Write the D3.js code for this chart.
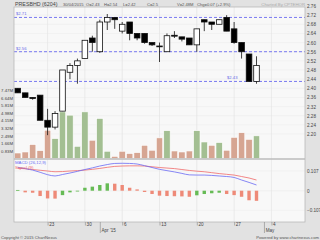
<!DOCTYPE html>
<html>
<head>
<meta charset="utf-8">
<script src="https://cdnjs.cloudflare.com/ajax/libs/d3/7.8.5/d3.min.js"></script>
<style>
body { margin: 0; background: #e2e2e2; }
svg { display: block; font-family: "Liberation Sans", Arial, sans-serif; }
.axis path { display: none; }
.axis line { stroke: #888; stroke-width: 0.6; }
.axis text { fill: #444; font-size: 4.6px; }
</style>
</head>
<body>
<div id="vis"></div>
<script>
// trading days, Mar 17 .. Apr 30 2015
var dates = ["17/03","18/03","19/03","20/03","23/03","24/03","25/03","26/03","27/03",
    "30/03","31/03","01/04","02/04","03/04","06/04","07/04","08/04","09/04","10/04",
    "13/04","14/04","15/04","16/04","17/04","20/04","21/04","22/04","23/04","24/04",
    "27/04","28/04","29/04","30/04"];

var open  = [2.40, 2.38, 2.36, 2.37, 2.26, 2.23, 2.30, 2.47, 2.50, 2.53, 2.62, 2.56, 2.69, 2.71, 2.65, 2.69, 2.64,
             2.64, 2.60, 2.585, 2.56, 2.632, 2.625, 2.62, 2.59, 2.70, 2.69, 2.68, 2.71, 2.66, 2.60, 2.55, 2.43];
var high  = [2.40, 2.38, 2.36, 2.37, 2.31, 2.30, 2.48, 2.51, 2.53, 2.61, 2.63, 2.70, 2.725, 2.71, 2.69, 2.69, 2.64,
             2.64, 2.60, 2.60, 2.64, 2.65, 2.625, 2.62, 2.66, 2.70, 2.69, 2.70, 2.72, 2.69, 2.60, 2.55, 2.54];
var low   = [2.38, 2.36, 2.35, 2.26, 2.195, 2.22, 2.30, 2.44, 2.42, 2.53, 2.56, 2.555, 2.655, 2.66, 2.64, 2.61, 2.61,
             2.595, 2.585, 2.515, 2.56, 2.62, 2.605, 2.59, 2.56, 2.65, 2.655, 2.68, 2.65, 2.595, 2.53, 2.43, 2.42];
var close = [2.38, 2.36, 2.355, 2.26, 2.23, 2.29, 2.48, 2.50, 2.52, 2.61, 2.60, 2.69, 2.71, 2.70, 2.68, 2.64, 2.62,
             2.60, 2.59, 2.585, 2.63, 2.628, 2.615, 2.59, 2.66, 2.69, 2.68, 2.70, 2.65, 2.60, 2.56, 2.43, 2.50];

// volume in millions
var volume = [0.61, 0.72, 1.53, 0.87, 3.09, 2.18, 5.09, 4.73, 1.34, 5.09, 2.0, 4.37, 0.8, 0.25, 0.8, 0.55, 0.65,
              1.45, 0.91, 2.26, 3.04, 0.83, 0.72, 0.83, 3.04, 1.81, 1.45, 1.75, 0.91, 2.32, 2.82, 2.1, 2.48];

var macd   = [0.127, 0.120, 0.112, 0.100, 0.087, 0.080, 0.088, 0.096, 0.105, 0.115, 0.124, 0.134, 0.142, 0.148,
              0.149, 0.148, 0.145, 0.136, 0.126, 0.116, 0.109, 0.102, 0.094, 0.086, 0.085, 0.085, 0.083, 0.080,
              0.077, 0.072, 0.058, 0.045, 0.031];
var signal = [0.122, 0.119, 0.115, 0.111, 0.107, 0.103, 0.104, 0.107, 0.109, 0.112, 0.116, 0.121, 0.127, 0.132,
              0.134, 0.135, 0.135, 0.134, 0.130, 0.126, 0.123, 0.120, 0.115, 0.110, 0.106, 0.103, 0.098, 0.093,
              0.089, 0.085, 0.077, 0.069, 0.058];
var hist   = [0.004, -0.009, -0.011, -0.029, -0.042, -0.043, -0.024, -0.009, -0.003, 0.016, 0.022, 0.031, 0.040,
              0.038, 0.031, 0.016, 0.007, -0.007, -0.018, -0.027, -0.029, -0.030, -0.031, -0.033, -0.025, -0.018,
              -0.014, -0.011, -0.018, -0.024, -0.033, -0.052, -0.055];

var levels = [2.71, 2.56, 2.43];

var priceTicks = [2.20, 2.24, 2.28, 2.32, 2.36, 2.40, 2.44, 2.48, 2.52, 2.56, 2.60, 2.64, 2.68, 2.72, 2.76];
var volTicks = [0.83, 1.66, 2.49, 3.32, 4.15, 4.98, 5.81, 6.64, 7.47];
var macdTicks = [-0.107, 0, 0.107];

// day slots on the x axis (0 = Mar 17)
var weekIdx = [4, 9, 14, 19, 24, 29, 34];
var weekLabels = ["23", "30", "6", "13", "20", "27", "4"];
var monthIdx = [11, 33];
var monthLabels = ["Apr '15", "May"];

var width = 320, height = 240;
var plot = {left: 14, right: 305, top: 7, mid: 159, bottom: 222};

var x = d3.scaleLinear().domain([-0.5, 38.5]).range([plot.left, plot.right]);
var y = d3.scaleLinear().domain([2.20, 2.76]).range([134, 6]);
var yVol = d3.scaleLinear().domain([0, 7.47]).range([158.6, 90]);
var yMacd = d3.scaleLinear().domain([-0.107, 0.107]).range([210.4, 171]);

var svg = d3.select("#vis").append("svg")
    .attr("width", width)
    .attr("height", height);

svg.append("rect").attr("width", width).attr("height", height).attr("fill", "#e2e2e2");
svg.append("rect")
    .attr("x", plot.left).attr("y", plot.top)
    .attr("width", plot.right - plot.left).attr("height", plot.bottom - plot.top)
    .attr("fill", "#f8f8f8");

svg.append("clipPath").attr("id", "clipMain")
    .append("rect")
    .attr("x", plot.left).attr("y", plot.top)
    .attr("width", plot.right - plot.left).attr("height", plot.mid - plot.top);

// grid
svg.append("g").selectAll("line")
    .data(priceTicks.filter(function(d) { return y(d) > plot.top; }))
    .join("line")
    .attr("x1", plot.left).attr("x2", plot.right)
    .attr("y1", function(d) { return y(d); }).attr("y2", function(d) { return y(d); })
    .attr("stroke", "#ececec").attr("stroke-width", 0.6);
svg.append("g").selectAll("line")
    .data(macdTicks)
    .join("line")
    .attr("x1", plot.left).attr("x2", plot.right)
    .attr("y1", function(d) { return yMacd(d); }).attr("y2", function(d) { return yMacd(d); })
    .attr("stroke", "#ececec").attr("stroke-width", 0.6);
svg.append("g").selectAll("line")
    .data(weekIdx)
    .join("line")
    .attr("x1", function(d) { return x(d); }).attr("x2", function(d) { return x(d); })
    .attr("y1", plot.top).attr("y2", plot.bottom)
    .attr("stroke", "#e4e4e4").attr("stroke-width", 0.7);

// volume bars, green when close rises
var up = close.map(function(c, i) { return i === 0 ? c >= open[i] : c >= close[i - 1]; });

svg.append("g").selectAll("rect")
    .data(volume)
    .join("rect")
    .attr("x", function(d, i) { return x(i) - 3.2; })
    .attr("width", 6.4)
    .attr("y", function(d) { return yVol(d); })
    .attr("height", function(d) { return yVol(0) - yVol(d); })
    .attr("fill", function(d, i) { return up[i] ? "#a3bf92" : "#d6a592"; })
    .attr("stroke", "#ffffff").attr("stroke-width", 0.6);

// support / resistance levels
var lev = svg.append("g").attr("clip-path", "url(#clipMain)");
lev.selectAll("line")
    .data(levels)
    .join("line")
    .attr("x1", plot.left).attr("x2", plot.right)
    .attr("y1", function(d) { return y(d); }).attr("y2", function(d) { return y(d); })
    .attr("stroke", "#7878f0").attr("stroke-width", 1)
    .attr("stroke-dasharray", "3,2");
lev.selectAll("text")
    .data(levels)
    .join("text")
    .attr("x", function(d, i) { return [16, 16, 227][i]; })
    .attr("y", function(d) { return y(d) - 2; })
    .attr("fill", "#6a6ae8")
    .style("font-size", "4.2px")
    .text(function(d) { return "$" + d.toFixed(2); });

// candles
var candles = svg.append("g").attr("clip-path", "url(#clipMain)")
    .selectAll("g")
    .data(close)
    .join("g");

candles.append("line")
    .attr("x1", function(d, i) { return x(i); }).attr("x2", function(d, i) { return x(i); })
    .attr("y1", function(d, i) { return y(high[i]); })
    .attr("y2", function(d, i) { return y(low[i]); })
    .attr("stroke", "#111").attr("stroke-width", 0.8);

candles.append("rect")
    .attr("x", function(d, i) { return x(i) - 2.8; })
    .attr("width", 5.6)
    .attr("y", function(d, i) { return y(Math.max(open[i], d)); })
    .attr("height", function(d, i) { return Math.max(0.8, Math.abs(y(open[i]) - y(d))); })
    .attr("fill", function(d, i) { return d >= open[i] ? "#ffffff" : "#000000"; })
    .attr("stroke", "#111").attr("stroke-width", 0.8);

// panel frames
svg.append("line")
    .attr("x1", plot.left).attr("x2", plot.right)
    .attr("y1", plot.mid).attr("y2", plot.mid)
    .attr("stroke", "#bdbdbd").attr("stroke-width", 1.5);
svg.append("rect")
    .attr("x", plot.left).attr("y", plot.top)
    .attr("width", plot.right - plot.left).attr("height", plot.bottom - plot.top)
    .attr("fill", "none").attr("stroke", "#b8b8b8").attr("stroke-width", 0.8);

// MACD panel
svg.append("g").selectAll("rect")
    .data(hist)
    .join("rect")
    .attr("x", function(d, i) { return x(i) - 1.7; })
    .attr("width", 3.4)
    .attr("y", function(d) { return Math.min(yMacd(d), yMacd(0)); })
    .attr("height", function(d) { return Math.max(0.8, Math.abs(yMacd(d) - yMacd(0))); })
    .attr("fill", function(d, i) { return i === 0 || d >= hist[i - 1] ? "#66bb55" : "#ee8a78"; });

var macdLine = d3.line()
    .x(function(d, i) { return x(i); })
    .y(function(d) { return yMacd(d); })
    .curve(d3.curveMonotoneX);

svg.append("path").datum(signal)
    .attr("fill", "none").attr("stroke", "#f06a6a").attr("stroke-width", 0.8)
    .attr("d", macdLine);
svg.append("path").datum(macd)
    .attr("fill", "none").attr("stroke", "#6a6af4").attr("stroke-width", 0.8)
    .attr("d", macdLine);

svg.append("text").attr("x", 15).attr("y", 164)
    .attr("fill", "#6a6af4").style("font-size", "4.3px").text("MACD (26,12,9)");
svg.append("text").attr("x", 15).attr("y", 168.5)
    .attr("fill", "#f06a6a").style("font-size", "4.3px").text("Signal (9)");

// axes
svg.append("g").attr("class", "axis")
    .attr("transform", "translate(" + plot.right + ",0)")
    .call(d3.axisRight(y).tickValues(priceTicks).tickSize(0).tickPadding(2)
        .tickFormat(d3.format(".2f")));

svg.append("g").attr("class", "axis")
    .attr("transform", "translate(" + plot.left + ",0)")
    .call(d3.axisLeft(yVol).tickValues(volTicks).tickSize(0).tickPadding(1)
        .tickFormat(function(d) { return d.toFixed(2) + "M"; }))
    .selectAll("text").style("font-size", "4.3px");

svg.append("g").attr("class", "axis")
    .attr("transform", "translate(" + plot.right + ",0)")
    .call(d3.axisRight(yMacd).tickValues(macdTicks).tickSize(0).tickPadding(2)
        .tickFormat(function(d) { return d === 0 ? "0" : d3.format(".3f")(d); }));

svg.append("g").attr("class", "axis")
    .attr("transform", "translate(0," + plot.bottom + ")")
    .call(d3.axisBottom(x).tickValues(weekIdx).tickSize(3.5).tickPadding(-3)
        .tickFormat(function(d, i) { return weekLabels[i]; }))
    .selectAll("text").attr("x", 1.2).style("text-anchor", "start");

svg.append("g").attr("class", "axis")
    .attr("transform", "translate(0," + plot.bottom + ")")
    .call(d3.axisBottom(x).tickValues(monthIdx).tickSize(11).tickPadding(-4)
        .tickFormat(function(d, i) { return monthLabels[i]; }))
    .selectAll("text").attr("x", 1.2).style("text-anchor", "start");

// header
svg.append("text").attr("x", 15).attr("y", 6)
    .attr("fill", "#444").style("font-size", "5.3px").text("PRESBHD (6204)");

var last = close.length - 1;
var chg = close[last] - close[last - 1];
var info = [
    [63, "30/04/2015"],
    [86, "O=" + open[last]],
    [104, "H=" + high[last]],
    [123, "L=" + low[last]],
    [147, "C=" + close[last]],
    [177, "V=" + volume[last] + "M"],
    [197, "Chg=" + chg.toFixed(2) + " (+" + (chg / close[last - 1] * 100).toFixed(1) + "%)"]
];
svg.append("g").selectAll("text")
    .data(info)
    .join("text")
    .attr("x", function(d) { return d[0]; })
    .attr("y", 5.6)
    .attr("fill", "#555").style("font-size", "4.1px")
    .text(function(d) { return d[1]; });

svg.append("text").attr("x", 305).attr("y", 5.6).attr("text-anchor", "end")
    .attr("fill", "#aaa").style("font-size", "4.3px").text("Charted By CPTEHOR");

svg.append("text").attr("x", 1).attr("y", 238.5)
    .attr("fill", "#555").style("font-size", "4.2px").text("Copyright \u00a9 2015 ChartNexus");
svg.append("text").attr("x", 319).attr("y", 238.5).attr("text-anchor", "end")
    .attr("fill", "#555").style("font-size", "4.2px").text("Powered by www.chartnexus.com");
</script>
</body>
</html>
